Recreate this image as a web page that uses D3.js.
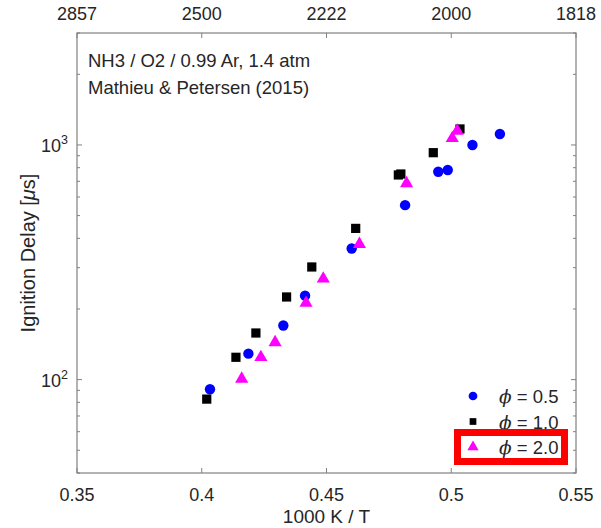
<!DOCTYPE html>
<html>
<head>
<meta charset="utf-8">
<script src="https://cdn.jsdelivr.net/npm/d3@7"></script>
<style>
  body { margin: 0; background: #fff; }
  text { font-family: "Liberation Sans", Arial, sans-serif; fill: #262626; }
</style>
</head>
<body>
<div id="chart"></div>
<script>
// 1000 K / T values and ignition delay [us]
const phi05_x = [0.4033, 0.4187, 0.4327, 0.4414, 0.4601, 0.4815, 0.4948, 0.4986, 0.5085, 0.5195];
const phi05_y = [91, 129, 170, 228, 362, 554, 769, 782, 1000, 1114];
const phi10_x = [0.4020, 0.4137, 0.4217, 0.4340, 0.4441, 0.4617, 0.4788, 0.4798, 0.4928, 0.5035];
const phi10_y = [82.6, 124.5, 158, 225, 302, 441, 745, 752, 927, 1170];
const phi20_x = [0.4160, 0.4237, 0.4294, 0.4418, 0.4487, 0.4632, 0.4821, 0.5004, 0.5024];
const phi20_y = [100.7, 124.5, 144, 212, 269, 378, 686, 1068, 1148];

const xTicks = [0.35, 0.4, 0.45, 0.5, 0.55];
const xTickLabels = ["0.35", "0.4", "0.45", "0.5", "0.55"];
const topTickLabels = ["2857", "2500", "2222", "2000", "1818"];
const yMajor = [100, 1000];
const yMinor = [40, 50, 60, 70, 80, 90, 200, 300, 400, 500, 600, 700, 800, 900, 2000, 3000];
const legendLabels = ["0.5", "1.0", "2.0"];
const annotation = ["NH3 / O2 / 0.99 Ar, 1.4 atm", "Mathieu & Petersen (2015)"];

const width = 601, height = 528;
const margin = {left: 77, right: 25, top: 33, bottom: 55};
const iw = width - margin.left - margin.right;
const ih = height - margin.top - margin.bottom;

const svg = d3.select("#chart").append("svg")
  .attr("width", width).attr("height", height);
const g = svg.append("g").attr("transform", `translate(${margin.left},${margin.top})`);

const x = d3.scaleLinear().domain([0.35, 0.55]).range([0, iw]);
const y = d3.scaleLog().domain([40, 3000]).range([ih, 0]);

const axisColor = "#808080";

// frame
g.append("rect").attr("x", 0).attr("y", 0).attr("width", iw).attr("height", ih)
  .attr("fill", "none").attr("stroke", axisColor).attr("stroke-width", 1.2);

// x ticks, bottom and top, pointing inward
xTicks.forEach(t => {
  g.append("line").attr("x1", x(t)).attr("x2", x(t)).attr("y1", ih).attr("y2", ih - 5)
    .attr("stroke", axisColor);
  g.append("line").attr("x1", x(t)).attr("x2", x(t)).attr("y1", 0).attr("y2", 5)
    .attr("stroke", axisColor);
});
g.selectAll(".xlab").data(xTicks).enter().append("text")
  .attr("x", d => x(d)).attr("y", ih + 28)
  .attr("text-anchor", "middle").attr("font-size", "18px")
  .text((d, i) => xTickLabels[i]);
g.selectAll(".toplab").data(xTicks).enter().append("text")
  .attr("x", d => x(d)).attr("y", -13)
  .attr("text-anchor", "middle").attr("font-size", "18px")
  .text((d, i) => topTickLabels[i]);

// y ticks, left and right
yMajor.forEach(t => {
  g.append("line").attr("x1", 0).attr("x2", 5).attr("y1", y(t)).attr("y2", y(t)).attr("stroke", axisColor);
  g.append("line").attr("x1", iw).attr("x2", iw - 5).attr("y1", y(t)).attr("y2", y(t)).attr("stroke", axisColor);
});
yMinor.forEach(t => {
  g.append("line").attr("x1", 0).attr("x2", 3).attr("y1", y(t)).attr("y2", y(t)).attr("stroke", axisColor);
  g.append("line").attr("x1", iw).attr("x2", iw - 3).attr("y1", y(t)).attr("y2", y(t)).attr("stroke", axisColor);
});
yMajor.forEach(t => {
  const lab = g.append("text").attr("x", -9).attr("y", y(t) + 7)
    .attr("text-anchor", "end").attr("font-size", "18px");
  lab.append("tspan").text("10");
  lab.append("tspan").attr("dy", -8).attr("font-size", "12.5px").text(Math.round(Math.log10(t)));
});

// axis titles
svg.append("text").attr("x", margin.left + x(0.45)).attr("y", 523)
  .attr("text-anchor", "middle").attr("font-size", "19px").text("1000 K / T");
const yl = svg.append("text").attr("transform", "translate(35,253) rotate(-90)")
  .attr("text-anchor", "middle").attr("font-size", "20px");
yl.append("tspan").text("Ignition Delay [");
yl.append("tspan").attr("font-style", "italic").text("\u03bc");
yl.append("tspan").text("s]");

// annotation
annotation.forEach((s, i) => {
  g.append("text").attr("x", 11).attr("y", 34 + i * 27).attr("font-size", "18.5px").text(s);
});

// markers
const series = [
  {xs: phi05_x, ys: phi05_y, shape: d3.symbolCircle, color: "#0000ff", size: 85},
  {xs: phi10_x, ys: phi10_y, shape: d3.symbolSquare, color: "#000000", size: 85},
  {xs: phi20_x, ys: phi20_y, shape: d3.symbolTriangle, color: "#ff00ff", size: 75}
];
series.forEach(s => {
  g.selectAll(null).data(s.xs).enter().append("path")
    .attr("transform", (d, i) => `translate(${x(d)},${y(s.ys[i])})`)
    .attr("d", d3.symbol().type(s.shape).size(s.size))
    .attr("fill", s.color);
});

// legend
const legSizes = [60, 45, 55];
legendLabels.forEach((lab, i) => {
  const ly = 396 + i * 25.5;
  svg.append("path").attr("transform", `translate(473,${ly})`)
    .attr("d", d3.symbol().type(series[i].shape).size(legSizes[i]))
    .attr("fill", series[i].color);
  const t = svg.append("text").attr("x", 499).attr("y", ly + 7).attr("font-size", "18.5px");
  t.append("tspan").attr("font-style", "italic").attr("font-family", "DejaVu Serif, serif").text("\u03d5");
  t.append("tspan").text(" = " + lab);
});

// red highlight box round the last legend entry
svg.append("rect").attr("x", 457.5).attr("y", 432.5).attr("width", 107).attr("height", 29)
  .attr("fill", "none").attr("stroke", "#ff0000").attr("stroke-width", 7);
</script>
</body>
</html>
